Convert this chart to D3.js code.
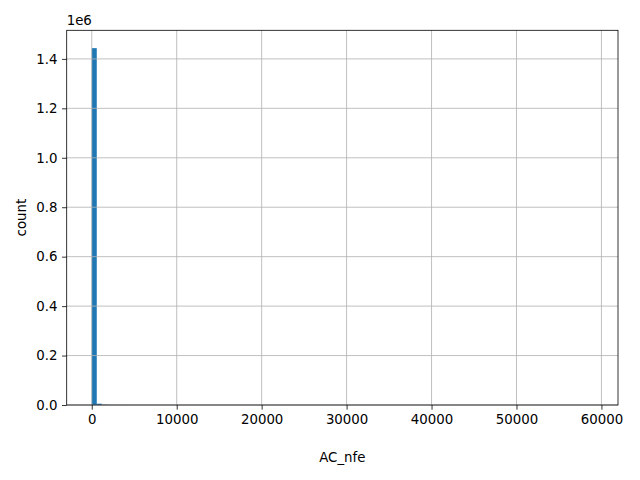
<!DOCTYPE html>
<html>
<head>
<meta charset="utf-8">
<script src="https://cdn.jsdelivr.net/npm/d3@7"></script>
<style>
html,body{margin:0;padding:0;background:#fff;}
svg{display:block;font-family:"DejaVu Sans",sans-serif;}
</style>
</head>
<body>
<svg id="chart" width="640" height="480"></svg>
<script>
// Histogram of AC_nfe: 100 equal bins between binMin and binMax
const binMin = 0;
const binMax = 59000;
const counts = [
  1443500, 5200, 900, 350, 160, 90, 50, 30, 20, 14,
  10, 8, 6, 5, 4, 3, 3, 2, 2, 2,
  1, 1, 1, 1, 1, 1, 0, 1, 0, 1,
  0, 0, 1, 0, 0, 0, 1, 0, 0, 0,
  0, 0, 0, 1, 0, 0, 0, 0, 0, 0,
  0, 0, 0, 0, 0, 0, 0, 0, 0, 0,
  0, 0, 0, 0, 0, 0, 0, 0, 0, 0,
  0, 0, 0, 0, 0, 0, 0, 0, 0, 0,
  0, 0, 0, 0, 0, 0, 0, 0, 0, 0,
  0, 0, 0, 0, 0, 0, 0, 0, 0, 1
];
const xTicks = [0, 10000, 20000, 30000, 40000, 50000, 60000];
const yTicks = [0, 200000, 400000, 600000, 800000, 1000000, 1200000, 1400000];
const xLabel = "AC_nfe";
const yLabel = "count";

const L = 66.7, R = 618, T = 30.3, B = 405;
const svg = d3.select("#chart");

const nb = counts.length;
const bw = (binMax - binMin) / nb;
const bins = counts.map((c, i) => ({x0: binMin + i * bw, x1: binMin + (i + 1) * bw, c}));

const span = binMax - binMin;
const x = d3.scaleLinear().domain([binMin - 0.05 * span, binMax + 0.05 * span]).range([L, R]);
const yMax = d3.max(counts) * 1.05;
const y = d3.scaleLinear().domain([0, yMax]).range([B, T]);

// bars
svg.append("g").selectAll("rect").data(bins).enter().append("rect")
  .attr("x", d => x(d.x0))
  .attr("width", d => x(d.x1) - x(d.x0))
  .attr("y", d => y(d.c))
  .attr("height", d => B - y(d.c))
  .attr("fill", "#1f77b4");

// grid (drawn above bars like matplotlib default)
const grid = svg.append("g").attr("stroke", "#b0b0b0").attr("stroke-width", 0.8);
xTicks.forEach(t => grid.append("line").attr("x1", x(t)).attr("x2", x(t)).attr("y1", T).attr("y2", B));
yTicks.forEach(t => grid.append("line").attr("x1", L).attr("x2", R).attr("y1", y(t)).attr("y2", y(t)));

// axes
const xAxis = d3.axisBottom(x).tickValues(xTicks).tickFormat(d3.format("d")).tickSize(4.67).tickPadding(4.67);
const gx = svg.append("g").attr("transform", `translate(0,${B})`).call(xAxis);
const yAxis = d3.axisLeft(y).tickValues(yTicks).tickFormat(d => (d / 1e6).toFixed(1)).tickSize(4.67).tickPadding(4.67);
const gy = svg.append("g").attr("transform", `translate(${L},0)`).call(yAxis);
[gx, gy].forEach(g => {
  g.select(".domain").remove();
  g.selectAll(".tick line").attr("stroke", "#000").attr("stroke-width", 0.8);
  g.selectAll(".tick text").attr("font-size", "13.33px").attr("fill", "#000").attr("font-family", "DejaVu Sans");
});

// spines
svg.append("rect").attr("x", L).attr("y", T).attr("width", R - L).attr("height", B - T)
  .attr("fill", "none").attr("stroke", "#000").attr("stroke-width", 0.8);

// offset text
svg.append("text").attr("x", L).attr("y", 25).attr("font-size", "13.33px").text("1e6");

// labels
svg.append("text").attr("x", (L + R) / 2).attr("y", 462).attr("text-anchor", "middle")
  .attr("font-size", "13.33px").text(xLabel);
svg.append("text").attr("transform", `translate(26,${(T + B) / 2}) rotate(-90)`).attr("text-anchor", "middle")
  .attr("font-size", "13.33px").text(yLabel);
</script>
</body>
</html>
